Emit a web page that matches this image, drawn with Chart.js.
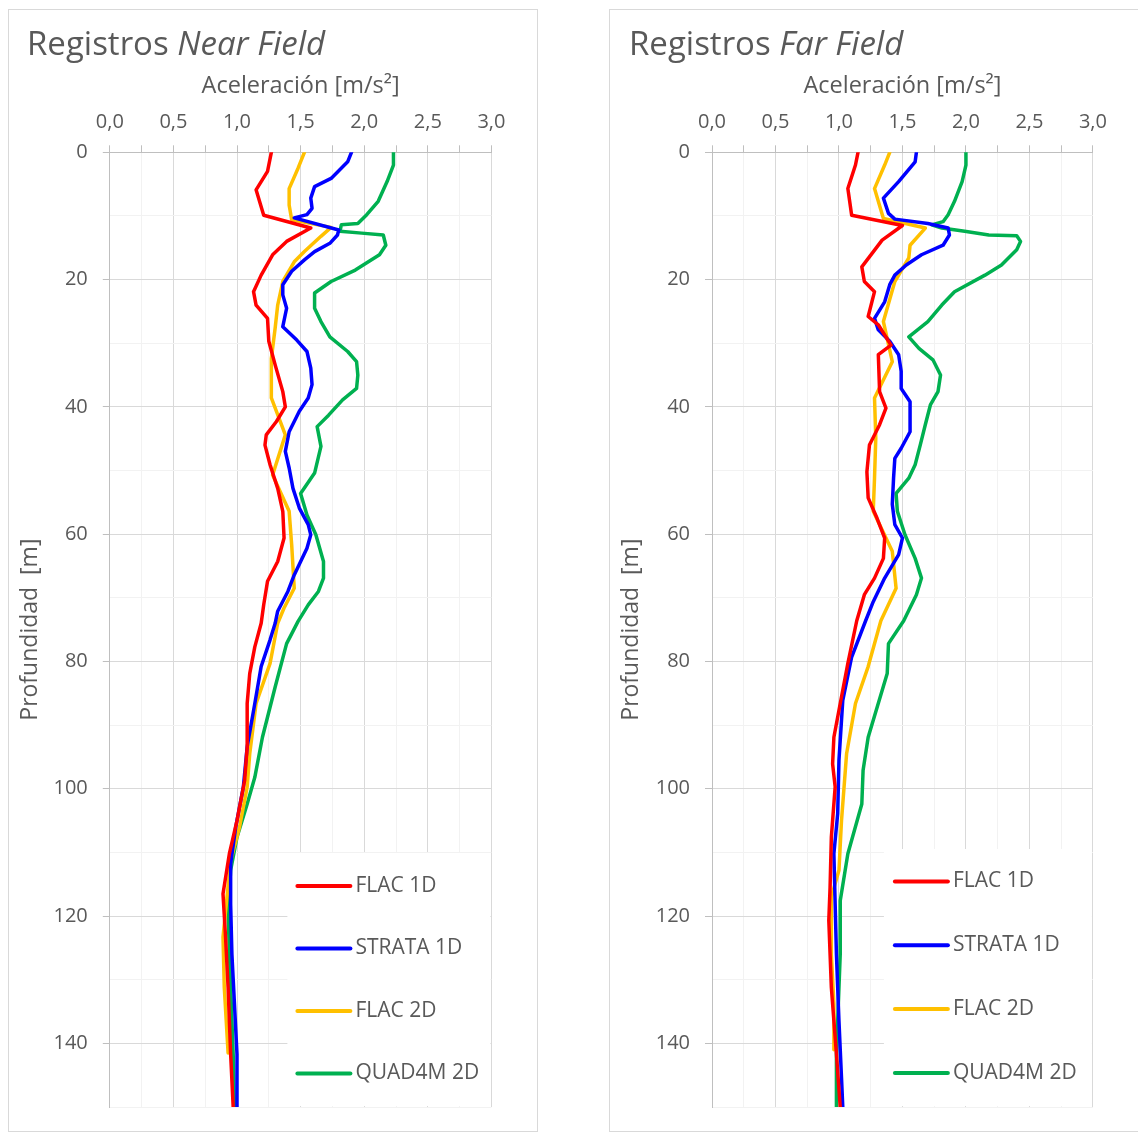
<!DOCTYPE html>
<html lang="es">
<head>
<meta charset="utf-8">
<title>Registros Near Field / Far Field</title>
<script src="https://cdn.jsdelivr.net/npm/chart.js@4.4.1/dist/chart.umd.min.js"></script>
<style>
  body { margin: 0; background: #fff; font-family: "Open Sans", sans-serif; }
  .panel { position: absolute; top: 9px; width: 528px; height: 1121px; border: 1px solid #d9d9d9; }
  #panelNear { left: 8px; }
  #panelFar { left: 609px; width: 560px; }
  .panel h2 { position: absolute; margin: 0; top: 16px; font-size: 33px; line-height: 33px; font-weight: normal; color: #595959; white-space: nowrap; z-index: 1; }
  #panelNear h2 { left: 18px; }
  #panelFar h2 { left: 19px; }
  canvas { position: absolute; left: 0; top: 0; }
</style>
</head>
<body>
<div class="panel" id="panelNear">
  <h2>Registros <i>Near Field</i></h2>
  <canvas id="nearChart" width="528" height="1124"></canvas>
</div>
<div class="panel" id="panelFar">
  <h2>Registros <i>Far Field</i></h2>
  <canvas id="farChart" width="528" height="1124"></canvas>
</div>

<script>
// Series names and colours
const seriesNames = ["FLAC 1D", "STRATA 1D", "FLAC 2D", "QUAD4M 2D"];
const seriesColors = ["#ff0000", "#0000ff", "#ffc000", "#00b050"];

// --- Near Field: depth [m] and acceleration [m/s2] ---
const nearFlac1dDepth = [0, 3, 5.9, 9.9, 11.9, 14, 16.1, 19.3, 21.9, 24, 26.1, 29.7, 33.4, 37.6, 40, 42.3, 44.4, 46, 49.1, 52.8, 56.4, 60.6, 64.3, 67.4, 71.1, 74, 77.7, 81.9, 86.6, 93.4, 98.7, 105, 110.2, 116.5, 123.3, 131.2, 141.7, 150];
const nearFlac1dAcc = [1.27, 1.24, 1.15, 1.21, 1.58, 1.39, 1.28, 1.19, 1.13, 1.15, 1.24, 1.25, 1.30, 1.36, 1.38, 1.31, 1.23, 1.22, 1.26, 1.32, 1.36, 1.37, 1.32, 1.24, 1.21, 1.19, 1.14, 1.10, 1.08, 1.08, 1.06, 1.00, 0.94, 0.89, 0.91, 0.93, 0.95, 0.97];

const nearStrataDepth = [0, 1.5, 4.1, 5.4, 7.2, 8.8, 9.8, 10.3, 12.2, 13, 14.3, 15.6, 16.9, 18.7, 20.8, 22.4, 24.5, 27.4, 29.5, 31.3, 33.9, 36.5, 38.6, 40.7, 43.9, 47, 49.6, 52.8, 55.9, 58.5, 60.1, 62.2, 66.4, 69, 72.1, 74, 76.6, 80.8, 86.6, 93.4, 99.7, 106, 111.8, 118.1, 126, 133.8, 141.7, 150];
const nearStrataAcc = [1.90, 1.87, 1.74, 1.61, 1.58, 1.59, 1.55, 1.45, 1.80, 1.79, 1.73, 1.61, 1.53, 1.43, 1.36, 1.36, 1.39, 1.36, 1.47, 1.55, 1.58, 1.59, 1.56, 1.49, 1.41, 1.38, 1.41, 1.44, 1.49, 1.56, 1.58, 1.55, 1.45, 1.40, 1.32, 1.30, 1.26, 1.19, 1.14, 1.08, 1.05, 0.99, 0.95, 0.95, 0.96, 0.98, 1.00, 1.00];

const nearFlac2dDepth = [0, 2.5, 5.7, 8.3, 10.6, 11.8, 13.2, 15.6, 17.2, 20.3, 24, 27.6, 32.4, 38.6, 44.4, 50.7, 56.4, 61.7, 68.5, 71.6, 74, 80.3, 86.6, 94.5, 99.7, 106, 111.3, 123.3, 131.2, 141.5];
const nearFlac2dAcc = [1.53, 1.48, 1.41, 1.41, 1.43, 1.74, 1.66, 1.53, 1.45, 1.36, 1.32, 1.30, 1.27, 1.27, 1.38, 1.28, 1.41, 1.43, 1.45, 1.37, 1.32, 1.26, 1.15, 1.10, 1.08, 1.02, 0.95, 0.89, 0.90, 0.93];

const nearQuad4mDepth = [0, 2, 4.6, 7.7, 9.8, 11.2, 11.4, 12.4, 12.7, 13, 14.6, 16.1, 18.5, 20.3, 22.1, 24.5, 26.6, 29, 31.3, 32.9, 35, 37.1, 38.9, 41.3, 43.1, 46.2, 50.4, 53.6, 57, 60.1, 64.3, 66.9, 69, 71.1, 73.7, 77.2, 84, 91.9, 98.2, 102.4, 107.6, 112.8, 119.7, 131.2, 141.7, 150];
const nearQuad4mAcc = [2.23, 2.23, 2.18, 2.11, 2.02, 1.95, 1.82, 1.81, 1.98, 2.15, 2.17, 2.12, 1.93, 1.74, 1.61, 1.61, 1.66, 1.73, 1.87, 1.94, 1.95, 1.94, 1.83, 1.72, 1.63, 1.66, 1.61, 1.50, 1.55, 1.62, 1.68, 1.68, 1.64, 1.56, 1.48, 1.39, 1.30, 1.20, 1.14, 1.08, 1.00, 0.95, 0.93, 0.95, 0.97, 0.98];

// --- Far Field ---
const farFlac1dDepth = [0, 2, 5.7, 9.9, 11.5, 13.8, 18, 20.3, 21.9, 25.8, 27.1, 30.3, 31.8, 37.6, 40.2, 42.8, 46, 50.2, 54.3, 57.5, 60.6, 63.8, 66.9, 69.5, 73.6, 80.3, 86.6, 91.9, 96.1, 99.7, 107.6, 115.5, 120.7, 131.2, 141.7, 150];
const farFlac1dAcc = [1.15, 1.13, 1.07, 1.10, 1.50, 1.34, 1.18, 1.20, 1.28, 1.23, 1.31, 1.41, 1.31, 1.32, 1.37, 1.32, 1.24, 1.22, 1.23, 1.30, 1.36, 1.35, 1.28, 1.20, 1.14, 1.07, 1.01, 0.96, 0.95, 0.97, 0.94, 0.93, 0.92, 0.94, 0.98, 1.01];

const farStrataDepth = [0, 1.5, 4.6, 7.2, 9.6, 10.5, 11.2, 11.9, 13, 14.6, 16.1, 17.7, 19.3, 20.8, 23.5, 26.1, 27.9, 29.7, 31.8, 34.4, 37.1, 39.2, 43.9, 46.5, 48.1, 51.2, 55.3, 58.5, 60.6, 63.2, 66.9, 70.6, 73.6, 79.3, 86.1, 95.5, 103.9, 110.2, 118.1, 126, 136.5, 145.4, 150];
const farStrataAcc = [1.61, 1.60, 1.47, 1.35, 1.39, 1.44, 1.70, 1.86, 1.87, 1.82, 1.65, 1.53, 1.44, 1.40, 1.36, 1.28, 1.31, 1.40, 1.47, 1.49, 1.49, 1.56, 1.56, 1.49, 1.44, 1.43, 1.42, 1.44, 1.50, 1.47, 1.36, 1.27, 1.21, 1.10, 1.03, 1.00, 0.99, 0.96, 0.97, 0.98, 1.00, 1.02, 1.03];

const farFlac2dDepth = [0, 2, 5.7, 10.4, 11.9, 14.6, 16.6, 20.3, 26.6, 32.9, 38.6, 44.9, 51.2, 56.4, 62.7, 68.5, 73.6, 80.8, 86.6, 94.5, 105, 112.8, 117, 126, 133.8, 141];
const farFlac2dAcc = [1.40, 1.36, 1.28, 1.35, 1.68, 1.56, 1.55, 1.44, 1.35, 1.42, 1.28, 1.29, 1.28, 1.27, 1.42, 1.45, 1.33, 1.23, 1.13, 1.06, 1.02, 1.00, 0.94, 0.94, 0.96, 0.96];

const farQuad4mDepth = [0, 2, 4.6, 7.7, 9.8, 10.9, 11.4, 11.9, 12.4, 13, 13.1, 14, 15.3, 17.7, 19.3, 21.9, 24, 26.6, 29, 30.8, 32.6, 35, 37.6, 39.7, 42.8, 46, 49.1, 51.2, 53.6, 56.4, 60.1, 63.8, 66.9, 69.5, 73.6, 77.2, 81.9, 91.9, 97.1, 102.4, 110.2, 117.6, 126, 141.7, 150];
const farQuad4mAcc = [2.00, 2.00, 1.97, 1.91, 1.86, 1.82, 1.73, 1.81, 1.99, 2.18, 2.40, 2.43, 2.40, 2.28, 2.15, 1.91, 1.81, 1.70, 1.55, 1.63, 1.74, 1.80, 1.78, 1.72, 1.68, 1.64, 1.60, 1.55, 1.45, 1.46, 1.52, 1.60, 1.65, 1.61, 1.51, 1.39, 1.38, 1.23, 1.19, 1.18, 1.07, 1.01, 1.01, 0.98, 0.98];

// axis ranges / tick steps
const accMin = 0, accMax = 3, accStep = 0.25, accLabelStep = 0.5;
const depthMin = 0, depthMax = 150, depthStep = 10, depthLabelStep = 20;

const TEXT = "#595959";
const GRID_MAJOR = "#d9d9d9";
const GRID_MINOR = "#f2f2f2";
const AXIS = "#bfbfbf";

Chart.defaults.font.family = '"Open Sans", sans-serif';
Chart.defaults.color = TEXT;

function isMultiple(v, step) {
  const r = v / step;
  return Math.abs(r - Math.round(r)) < 1e-6;
}

function toPoints(depth, acc) {
  return depth.map((d, i) => ({ x: acc[i], y: d }));
}

// legend drawn inside the plot area, bottom right (white box hides the grid)
const insideLegend = {
  id: "insideLegend",
  beforeDatasetsDraw(chart, args, opts) {
    const { ctx, chartArea: a } = chart;
    const left = a.right - opts.width;
    const top = a.bottom - opts.height;
    ctx.save();
    ctx.fillStyle = "#ffffff";
    ctx.fillRect(left, top, opts.width - 1, opts.height - 1);
    ctx.font = '21px "Open Sans"';
    ctx.textBaseline = "middle";
    chart.data.datasets.forEach((ds, i) => {
      const y = a.bottom - opts.firstRow + i * opts.rowGap;
      ctx.strokeStyle = ds.borderColor;
      ctx.lineWidth = 4;
      ctx.lineCap = "round";
      ctx.beginPath();
      ctx.moveTo(left + opts.lineStart, y);
      ctx.lineTo(left + opts.lineStart + opts.lineLength, y);
      ctx.stroke();
      ctx.fillStyle = TEXT;
      ctx.fillText(ds.label, left + opts.textStart, y);
    });
    ctx.restore();
  }
};

function buildChart(canvasId, series, area, legend) {
  const datasets = series.map((s, i) => ({
    label: seriesNames[i],
    data: toPoints(s[0], s[1]),
    borderColor: seriesColors[i],
    backgroundColor: seriesColors[i],
    borderWidth: 3.5,
    borderJoinStyle: "round",
    borderCapStyle: "round",
    pointRadius: 0,
    showLine: true,
    tension: 0
  }));

  return new Chart(document.getElementById(canvasId), {
    type: "scatter",
    data: { datasets },
    plugins: [insideLegend],
    options: {
      responsive: false,
      animation: false,
      layout: { padding: { left: 0, top: 0, right: area.right, bottom: area.bottom } },
      plugins: {
        legend: { display: false },
        tooltip: { enabled: false },
        insideLegend: legend
      },
      scales: {
        x: {
          type: "linear",
          position: "top",
          min: accMin,
          max: accMax,
          ticks: {
            stepSize: accStep,
            autoSkip: false,
            maxRotation: 0,
            minRotation: 0,
            padding: 11.5,
            color: TEXT,
            font: { size: 20 },
            callback: v => isMultiple(v, accLabelStep) ? v.toFixed(1).replace(".", ",") : ""
          },
          grid: {
            color: c => (c.tick && isMultiple(c.tick.value, accLabelStep)) ? GRID_MAJOR : GRID_MINOR,
            tickColor: AXIS,
            tickLength: 7
          },
          border: { color: AXIS },
          title: {
            display: true,
            text: "Aceleración [m/s²]",
            color: TEXT,
            font: { size: 23.5 },
            padding: { top: 62, bottom: 0 }
          },
          afterFit: s => { s.height = area.top; }
        },
        y: {
          type: "linear",
          reverse: true,
          min: depthMin,
          max: depthMax,
          ticks: {
            stepSize: depthStep,
            autoSkip: false,
            padding: 15,
            color: TEXT,
            font: { size: 20 },
            callback: v => isMultiple(v, depthLabelStep) ? v : ""
          },
          grid: {
            color: c => (c.tick && isMultiple(c.tick.value, depthLabelStep)) ? GRID_MAJOR : GRID_MINOR,
            tickColor: c => (c.tick && isMultiple(c.tick.value, depthLabelStep)) ? AXIS : "rgba(0,0,0,0)",
            tickLength: 7
          },
          border: { color: AXIS },
          title: {
            display: true,
            text: "Profundidad  [m]",
            color: TEXT,
            font: { size: 23 },
            padding: { top: 8, bottom: 0 }
          },
          afterFit: s => { s.width = area.left; }
        }
      }
    }
  });
}

buildChart("nearChart",
  [[nearFlac1dDepth, nearFlac1dAcc], [nearStrataDepth, nearStrataAcc],
   [nearFlac2dDepth, nearFlac2dAcc], [nearQuad4mDepth, nearQuad4mAcc]],
  { left: 100.8, top: 142.3, right: 45.6, bottom: 24 },
  { width: 204, height: 254, firstRow: 221, rowGap: 62.5, lineStart: 10, lineLength: 53, textStart: 68 });

buildChart("farChart",
  [[farFlac1dDepth, farFlac1dAcc], [farStrataDepth, farStrataAcc],
   [farFlac2dDepth, farFlac2dAcc], [farQuad4mDepth, farQuad4mAcc]],
  { left: 102, top: 142.3, right: 45.1, bottom: 24 },
  { width: 209, height: 258, firstRow: 225.5, rowGap: 63.8, lineStart: 11, lineLength: 53, textStart: 69 });
</script>
</body>
</html>
